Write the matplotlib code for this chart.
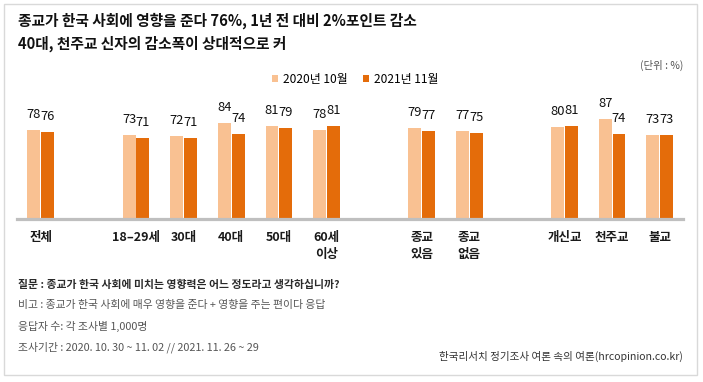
import matplotlib
matplotlib.use("Agg")
import matplotlib.pyplot as plt
from matplotlib.patches import Rectangle

plt.rcParams["font.family"] = ["Noto Sans CJK KR", "DejaVu Sans"]

# 데이터
categories = ["전체", "18\u201229세", "30대", "40대", "50대", "60세\n이상",
              "종교\n있음", "종교\n없음", "개신교", "천주교", "불교"]
positions = [0, 2, 3, 4, 5, 6, 8, 9, 11, 12, 13]
values_2020 = [78, 73, 72, 84, 81, 78, 79, 77, 80, 87, 73]
values_2021 = [76, 71, 71, 74, 79, 81, 77, 75, 81, 74, 73]
series_names = ["2020년 10월", "2021년 11월"]

color_2020 = "#F9C192"
color_2021 = "#E46C0A"

W, H = 703, 382
fig = plt.figure(figsize=(W / 100, H / 100), dpi=100)

# 축 위치 (픽셀 기준)
base_px = 218.5
top_px = 100
ax = fig.add_axes([17 / W, 1 - base_px / H, (683 - 17) / W, (base_px - top_px) / H])
ax.set_xlim(-0.5, 13.49)
ax.set_ylim(0, (base_px - top_px) / 1.14)

bw = 0.27
off = 0.145
xl = [p - off for p in positions]
xr = [p + off for p in positions]
ax.bar(xl, values_2020, width=bw, color=color_2020, label=series_names[0])
ax.bar(xr, values_2021, width=bw, color=color_2021, label=series_names[1])

num_font = ["Liberation Sans Narrow", "Noto Sans CJK KR"]
for x, v in zip(xl, values_2020):
    ax.annotate(str(v), (x, v), xytext=(0, 6.5), textcoords="offset points",
                ha="center", va="bottom", fontsize=9.3, family=num_font, color="#111")
for x, v in zip(xr, values_2021):
    ax.annotate(str(v), (x, v), xytext=(0, 6.5), textcoords="offset points",
                ha="center", va="bottom", fontsize=9.3, family=num_font, color="#111")

ax.axhline(0, color="#bfbfbf", lw=2.3, clip_on=False)

ax.set_xticks(positions)
ax.set_xticklabels(categories, fontsize=9, fontweight="bold", color="#1a1a1a")
for lab in ax.get_xticklabels():
    lab.set_linespacing(1.4)
    lab.set_verticalalignment("top")
ax.tick_params(axis="x", length=0, pad=9)
ax.set_yticks([])
for s in ax.spines.values():
    s.set_visible(False)

# 제목
fig.text(18 / W, 1 - 21 / H, "종교가 한국 사회에 영향을 준다 76%, 1년 전 대비 2%포인트 감소",
         fontsize=10.6, fontweight="bold", va="center", ha="left", color="#111")
fig.text(18 / W, 1 - 44 / H, "40대, 천주교 신자의 감소폭이 상대적으로 커",
         fontsize=10.6, fontweight="bold", va="center", ha="left", color="#111")

fig.text(683 / W, 1 - 65 / H, "(단위 : %)", fontsize=7.5, ha="right", va="center", color="#555")

# 범례
fig.legend(loc="center", bbox_to_anchor=(355 / W, 1 - 79 / H), ncol=2, frameon=False,
           handlelength=0.55, handleheight=0.55, handletextpad=0.35,
           columnspacing=1.3, prop={"family": num_font, "size": 8.6})

# 하단 설명
fig.text(18 / W, 1 - 285 / H, "질문 : 종교가 한국 사회에 미치는 영향력은 어느 정도라고 생각하십니까?",
         fontsize=7.8, fontweight="bold", va="center", color="#2a2a2a")
fig.text(18 / W, 1 - 305 / H, "비고 : 종교가 한국 사회에 매우 영향을 준다 + 영향을 주는 편이다 응답",
         fontsize=7.8, va="center", color="#555")
fig.text(18 / W, 1 - 326 / H, "응답자 수: 각 조사별 1,000명",
         fontsize=7.8, va="center", color="#555")
fig.text(18 / W, 1 - 347 / H, "조사기간 : 2020. 10. 30 ~ 11. 02 // 2021. 11. 26 ~ 29",
         fontsize=7.8, va="center", color="#555")
fig.text(683 / W, 1 - 356 / H, "한국리서치 정기조사 여론 속의 여론(hrcopinion.co.kr)",
         fontsize=7.6, ha="right", va="center", color="#333")

# 테두리
fig.patches.append(Rectangle((4 / W, 1 - 375 / H), 693 / W, 371 / H, transform=fig.transFigure,
                             fill=False, edgecolor="#d9d9d9", lw=1))

fig.savefig("out.png", dpi=100)
